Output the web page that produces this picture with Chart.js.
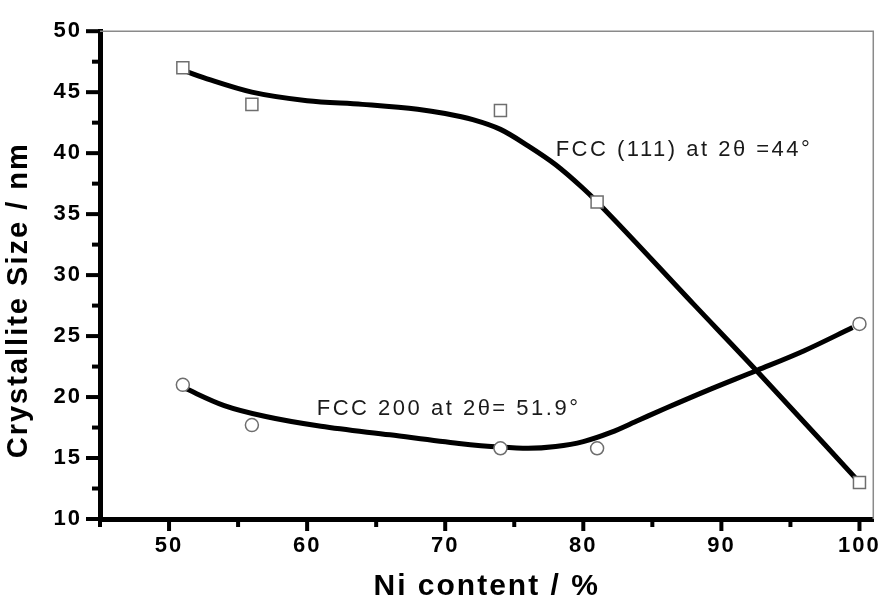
<!DOCTYPE html>
<html>
<head>
<meta charset="utf-8">
<script src="https://cdn.jsdelivr.net/npm/chart.js@4.4.1/dist/chart.umd.min.js"></script>
<style>
  html, body { margin: 0; padding: 0; background: #fff; }
  #wrap { width: 892px; height: 605px; }
</style>
</head>
<body>
<div id="wrap"><canvas id="sizeChart" width="892" height="605"></canvas></div>
<script>
// measured crystallite sizes (markers)
const niContent = [51, 56, 74, 81, 100];
const size111 = [47.0, 44.0, 43.5, 36.0, 13.0];
const size200 = [21.0, 17.7, 15.8, 15.8, 26.0];

// fitted curves
const fit111X = [51, 53, 56, 60, 64, 68, 70, 72, 74, 76, 78, 80, 81, 88, 92.6, 100];
const fit111Y = [46.8, 46.0, 45.0, 44.3, 44.0, 43.6, 43.25, 42.75, 41.95, 40.6, 39.05, 37.1, 36.0, 27.6, 22.1, 13.0];
const fit200X = [51, 54, 57, 61, 66, 71, 74, 76, 78, 80, 82, 84, 86, 89, 92.6, 96, 99.5];
const fit200Y = [20.8, 19.3, 18.4, 17.6, 16.9, 16.2, 15.9, 15.8, 15.95, 16.35, 17.1, 18.1, 19.1, 20.55, 22.2, 23.8, 25.7];

const curveLabels = ['FCC (111) at 2\u03b8 =44\u00b0', 'FCC 200 at 2\u03b8= 51.9\u00b0'];
const xTitle = 'Ni content / %';
const yTitle = 'Crystallite Size / nm';

const toPoints = (xs, ys) => xs.map((x, i) => ({ x: x, y: ys[i] }));

Chart.defaults.font.family = '"Liberation Sans", Arial, sans-serif';

// stretch the text a bit like the original figure
const spacing = {
    id: 'spacing',
    beforeDraw(chart) {
        chart.ctx.letterSpacing = '2px';
    }
};

// thin grey frame on top and right
const frame = {
    id: 'frame',
    beforeDatasetsDraw(chart) {
        const { ctx, chartArea: a } = chart;
        ctx.save();
        ctx.strokeStyle = '#8a8a8a';
        ctx.lineWidth = 1.5;
        ctx.beginPath();
        ctx.moveTo(a.left, a.top);
        ctx.lineTo(a.right, a.top);
        ctx.lineTo(a.right, a.bottom);
        ctx.stroke();
        ctx.restore();
    }
};

// outward tick marks, long for major and short for minor
const tickMarks = {
    id: 'tickMarks',
    afterDraw(chart) {
        const { ctx, chartArea: a, scales: { x, y } } = chart;
        ctx.save();
        ctx.strokeStyle = '#000';
        ctx.lineWidth = 4;
        y.ticks.forEach(t => {
            const py = y.getPixelForValue(t.value);
            const len = t.value % 5 === 0 ? 14 : 8;
            ctx.beginPath();
            ctx.moveTo(a.left, py);
            ctx.lineTo(a.left - len, py);
            ctx.stroke();
        });
        x.ticks.forEach(t => {
            if (t.value % 5 !== 0) return;
            const px = x.getPixelForValue(t.value);
            const len = t.value % 10 === 0 ? 12 : 8;
            ctx.beginPath();
            ctx.moveTo(px, a.bottom);
            ctx.lineTo(px, a.bottom + len);
            ctx.stroke();
        });
        ctx.restore();
    }
};

// curve labels placed in data units
const curveNotes = {
    id: 'curveNotes',
    afterDatasetsDraw(chart) {
        const { ctx, scales: { x, y } } = chart;
        ctx.save();
        ctx.font = '22px "Liberation Sans", Arial, sans-serif';
        ctx.fillStyle = '#1a1a1a';
        ctx.letterSpacing = '2.5px';
        ctx.textBaseline = 'alphabetic';
        ctx.fillText(curveLabels[0], x.getPixelForValue(78.0), y.getPixelForValue(39.8));
        ctx.fillText(curveLabels[1], x.getPixelForValue(60.7), y.getPixelForValue(18.5));
        ctx.restore();
    }
};

const markerStyle = {
    showLine: false,
    pointBackgroundColor: '#fff',
    pointBorderColor: '#6e6e6e',
    pointBorderWidth: 1.5,
    order: 0
};

const curveStyle = {
    showLine: true,
    borderColor: '#000',
    borderWidth: 5,
    pointRadius: 0,
    cubicInterpolationMode: 'monotone',
    fill: false,
    order: 1
};

new Chart(document.getElementById('sizeChart'), {
    type: 'scatter',
    data: {
        datasets: [
            { ...markerStyle, label: 'FCC (111)', data: toPoints(niContent, size111), pointStyle: 'rect', pointRadius: 8.5 },
            { ...markerStyle, label: 'FCC 200', data: toPoints(niContent, size200), pointStyle: 'circle', pointRadius: 6.5 },
            { ...curveStyle, label: 'fit (111)', data: toPoints(fit111X, fit111Y) },
            { ...curveStyle, label: 'fit 200', data: toPoints(fit200X, fit200Y) }
        ]
    },
    options: {
        responsive: false,
        animation: false,
        layout: { padding: { top: 20, right: 5, left: 0, bottom: 0 } },
        plugins: {
            legend: { display: false },
            tooltip: { enabled: false }
        },
        scales: {
            x: {
                type: 'linear',
                min: 45,
                max: 101,
                afterFit: s => { s.height = 86; },
                grid: { display: false, drawTicks: false },
                border: { display: true, color: '#000', width: 5 },
                ticks: {
                    stepSize: 5,
                    includeBounds: false,
                    autoSkip: false,
                    maxRotation: 0,
                    padding: 14,
                    color: '#000',
                    font: { size: 22, weight: 'bold' },
                    callback: v => (v % 10 === 0 ? v : '')
                },
                title: {
                    display: true,
                    text: xTitle,
                    color: '#000',
                    font: { size: 30, weight: 'bold' },
                    padding: 0
                }
            },
            y: {
                min: 10,
                max: 50,
                afterFit: s => { s.width = 100; },
                grid: { display: false, drawTicks: false },
                border: { display: true, color: '#000', width: 5 },
                ticks: {
                    stepSize: 2.5,
                    autoSkip: false,
                    padding: 18,
                    color: '#000',
                    font: { size: 22, weight: 'bold' },
                    callback: v => (v % 5 === 0 ? v : '')
                },
                title: {
                    display: true,
                    text: yTitle + '\u00a0'.repeat(5),
                    color: '#000',
                    font: { size: 29, weight: 'bold' },
                    padding: { top: 2, bottom: 0 }
                }
            }
        }
    },
    plugins: [spacing, frame, tickMarks, curveNotes]
});
</script>
</body>
</html>
